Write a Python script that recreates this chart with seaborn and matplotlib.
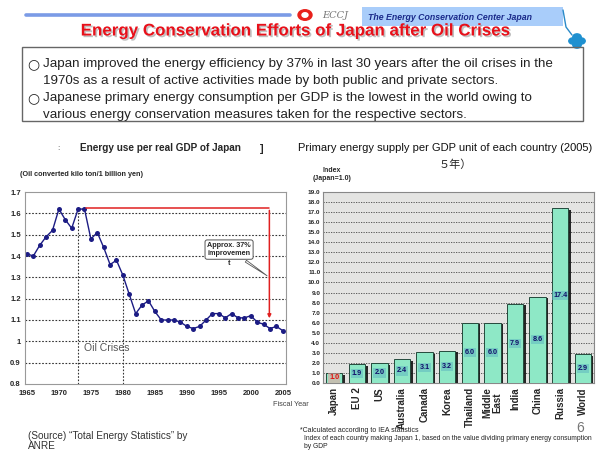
import numpy as np
import pandas as pd
import matplotlib
matplotlib.use("Agg")
import matplotlib.pyplot as plt
import matplotlib.patheffects as pe
from matplotlib.patches import Rectangle, Circle
import seaborn as sns

# ---------------- data ----------------
years = list(range(1965, 2006))
energy_use = [1.41, 1.40, 1.45, 1.49, 1.52, 1.62, 1.57, 1.53, 1.62, 1.62,
              1.48, 1.51, 1.44, 1.36, 1.38, 1.31, 1.22, 1.13, 1.17, 1.19,
              1.14, 1.10, 1.10, 1.10, 1.09, 1.07, 1.06, 1.07, 1.10, 1.13,
              1.13, 1.11, 1.13, 1.11, 1.11, 1.12, 1.09, 1.08, 1.06, 1.07, 1.05]
crisis_years = [1973, 1980]
year_ticks = [1965, 1970, 1975, 1980, 1985, 1990, 1995, 2000, 2005]
left_yticks = [0.8, 0.9, 1.0, 1.1, 1.2, 1.3, 1.4, 1.5, 1.6, 1.7]
left_ylabels = ["0.8", "0.9", "1", "1.1", "1.2", "1.3", "1.4", "1.5", "1.6", "1.7"]

countries = ["Japan", "EU 2", "US", "Australia", "Canada", "Korea", "Thailand",
             "Middle\nEast", "India", "China", "Russia", "World"]
index_values = [1.0, 1.9, 2.0, 2.4, 3.1, 3.2, 6.0, 6.0, 7.9, 8.6, 17.4, 2.9]
right_yticks = list(np.arange(0, 20, 1.0))

W, H = 600, 450


def P(x, y):
    return (x / W, 1 - y / H)


sns.set_style("white")
plt.rcParams['font.family'] = ['Liberation Sans', 'Noto Sans CJK JP', 'DejaVu Sans']

fig = plt.figure(figsize=(6, 4.5), dpi=100)
fig.patch.set_facecolor("white")

# ---------------- header decorations ----------------
fig.add_artist(plt.Line2D([26 / W, 290 / W], [1 - 15 / H, 1 - 15 / H], color="#7b9be6",
                          lw=2.6, transform=fig.transFigure))
fig.add_artist(Circle(P(305, 15), 7 / W, transform=fig.transFigure, color="#e8201a"))
fig.add_artist(Circle(P(305, 15), 3 / W, transform=fig.transFigure, color="white"))
fig.text(*P(322, 16), "ECCJ", fontsize=7, style="italic", color="#777777",
         family="DejaVu Serif", va="center", ha="left")
fig.add_artist(Rectangle(P(362, 26), 201 / W, 19 / H, transform=fig.transFigure,
                         color="#a9cdfa", lw=0))
fig.text(*P(368, 17), "The Energy Conservation Center Japan", fontsize=6.3,
         style="italic", weight="bold", color="#1a2a8a", va="center", ha="left")
# clover
fig.add_artist(plt.Line2D([563 / W, 566 / W, 572 / W], [1 - 10 / H, 1 - 27 / H, 1 - 35 / H],
                          color="#2a8ac8", lw=1, transform=fig.transFigure))
for dx, dy in [(-4, 0), (4, 0), (0, -4), (0, 4)]:
    fig.add_artist(Circle(P(577 + dx, 41 + dy), 4.2 / W, transform=fig.transFigure,
                          color="#1e90d0"))

fig.text(*P(295, 31), "Energy Conservation Efforts of Japan after Oil Crises",
         fontsize=12.2, weight="bold", color="#e8101a", ha="center", va="center",
         path_effects=[pe.withSimplePatchShadow(offset=(1.2, -1.2), shadow_rgbFace="#999999", alpha=0.6)])

# text box
fig.add_artist(Rectangle(P(22, 121), 561 / W, 74 / H, transform=fig.transFigure,
                         fill=False, ec="#666666", lw=1))
lines = [("○ ", "Japan improved the energy efficiency by 37% in last 30 years after the oil crises in the", 64),
         ("", "1970s as a result of active activities made by both public and private sectors.", 81),
         ("○ ", "Japanese primary energy consumption per GDP is the lowest in the world owing to", 98),
         ("", "various energy conservation measures taken for the respective sectors.", 115)]
for bullet, txt, y in lines:
    if bullet:
        fig.text(*P(27, y), "○", fontsize=10, color="#222222", va="center", ha="left",
                 family="DejaVu Sans")
    fig.text(*P(43, y), txt, fontsize=9.6, color="#222222", va="center", ha="left")

# ---------------- left chart ----------------
ax1 = fig.add_axes([25 / W, 1 - 384 / H, 261 / W, 192 / H])
df1 = pd.DataFrame({"year": years, "value": energy_use})
sns.lineplot(data=df1, x="year", y="value", ax=ax1, color="#1c1c84", marker="o",
             markersize=3.6, markeredgewidth=0, linewidth=1.0)
ax1.set_xlim(1964.7, 2005.5)
ax1.set_ylim(0.8, 1.7)
ax1.set_yticks(left_yticks)
ax1.set_yticklabels(left_ylabels, fontsize=5.5, weight="bold")
ax1.set_xticks(year_ticks)
ax1.set_xticklabels([str(y) for y in year_ticks], fontsize=5.5, weight="bold")
ax1.set_xticks(years, minor=True)
ax1.tick_params(axis="x", which="minor", length=2, direction="in", width=0.6)
ax1.tick_params(axis="x", which="major", length=3, direction="in", width=0.6, pad=4)
ax1.tick_params(axis="y", length=0, pad=3)
ax1.set_xlabel("")
ax1.set_ylabel("")
for yv in left_yticks[1:-1]:
    ax1.axhline(yv, color="#333333", lw=0.8, ls=(0, (1.5, 1.5)), zorder=0)
crisis_vals = [df1.set_index("year").loc[y, "value"] for y in crisis_years]
ax1.vlines(crisis_years, 0.8, crisis_vals, colors="#333333", lw=0.8, linestyles=(0, (1.5, 1.5)), zorder=0)
for s in ax1.spines.values():
    s.set_color("#999999")
    s.set_linewidth(0.8)
# red improvement indicator
ax1.plot([1974.2, 2002.9], [1.627, 1.627], color="#e02020", lw=1.1)
ax1.annotate("", xy=(2002.9, 1.095), xytext=(2002.9, 1.627),
             arrowprops=dict(arrowstyle="-|>", color="#e02020", lw=1.1, mutation_scale=5))
ax1.annotate("Approx. 37%\nimprovemen", xy=(2002.9, 1.30), xytext=(1996.6, 1.43),
             fontsize=5.2, weight="bold", ha="center", va="center",
             bbox=dict(boxstyle="round,pad=0.3", fc="white", ec="#555555", lw=0.7),
             arrowprops=dict(arrowstyle="wedge,tail_width=0.3", fc="white", ec="#555555", lw=0.6))
ax1.text(1996.6, 1.365, "t", fontsize=5.2, weight="bold", ha="center", va="center")
ax1.text(1973.9, 0.97, "Oil Crises", fontsize=7.5, color="#555555", ha="left", va="center")

fig.text(*P(160, 148), "Energy use per real GDP of Japan", fontsize=7.2, weight="bold",
         ha="center", va="center")
fig.text(*P(58, 149), ":", fontsize=6, ha="center", va="center", color="#444444")
fig.text(*P(262, 149), "]", fontsize=8, weight="bold", ha="center", va="center")
fig.text(*P(20, 174), "(Oil converted kilo ton/1 billion yen)", fontsize=5.2, weight="bold",
         ha="left", va="center")
fig.text(*P(273, 405), "Fiscal Year", fontsize=5.3, color="#444444", ha="left", va="center")
fig.text(*P(28, 436), "(Source) “Total Energy Statistics” by", fontsize=7.2, color="#333333",
         ha="left", va="center")
fig.text(*P(28, 446), "ANRE", fontsize=7.2, color="#333333", ha="left", va="center")

# ---------------- right chart ----------------
ax2 = fig.add_axes([323 / W, 1 - 383 / H, 271 / W, 191 / H])
ax2.set_facecolor("#e4e4e2")
df2 = pd.DataFrame({"country": countries, "index": index_values})
sns.barplot(data=df2, x="country", y="index", ax=ax2, color="#8ee8c6", width=0.72,
            edgecolor="#244a3c", linewidth=0.7, saturation=1, zorder=3)
for p in ax2.patches:
    p.set_path_effects([pe.withSimplePatchShadow(offset=(1.8, -1.2), shadow_rgbFace="#111111", alpha=0.9)])
ax2.set_ylim(0, 19)
ax2.set_xlim(-0.5, 11.5)
ax2.set_yticks(right_yticks)
ax2.set_yticklabels([f"{v:.1f}" for v in right_yticks], fontsize=4.6, weight="bold")
ax2.tick_params(axis="y", length=0, pad=2)
ax2.tick_params(axis="x", length=0, pad=3)
ax2.set_xticks(range(len(countries)))
ax2.set_xticklabels(countries, rotation=90, fontsize=7, weight="bold", linespacing=0.95)
ax2.set_xlabel("")
ax2.set_ylabel("")
for yv in right_yticks[1:]:
    ax2.axhline(yv, color="#444444", lw=0.6, ls=(0, (1.5, 1.5)), zorder=1)
for s in ax2.spines.values():
    s.set_color("#888888")
    s.set_linewidth(0.8)
labels = ax2.bar_label(ax2.containers[0], fmt="%.1f", label_type="center", fontsize=5.2,
                       weight="bold", color="#10106a",
                       bbox=dict(boxstyle="square,pad=0.15", fc="#5fb8c0", ec="none", alpha=0.55))
for t in labels:
    t.set_zorder(5)
labels[0].set_color("#e01010")
labels[0].get_bbox_patch().set_facecolor("#f0a0a0")

fig.text(*P(445, 148), "Primary energy supply per GDP unit of each country (2005)", fontsize=8.0,
         ha="center", va="center", color="#111111")
fig.text(*P(455, 165), "５年）", fontsize=8, ha="center", va="center",
         family=["Noto Sans CJK JP", "DejaVu Sans"])
fig.text(*P(332, 170), "Index", fontsize=5, weight="bold", ha="center", va="center")
fig.text(*P(313, 179), "(Japan=1.0)", fontsize=5, weight="bold", ha="left", va="center")
fig.text(*P(300, 431), "*Calculated according to IEA statistics", fontsize=5, ha="left",
         va="center", color="#222222")
fig.text(*P(304, 439), "Index of each country making Japan 1, based on the value dividing primary energy consumption",
         fontsize=4.9, ha="left", va="center", color="#222222")
fig.text(*P(304, 446), "by GDP", fontsize=4.9, ha="left", va="center", color="#222222")
fig.text(*P(580, 428), "6", fontsize=10, color="#777777", ha="center", va="center")

fig.savefig("out.png", dpi=100, facecolor="white")
